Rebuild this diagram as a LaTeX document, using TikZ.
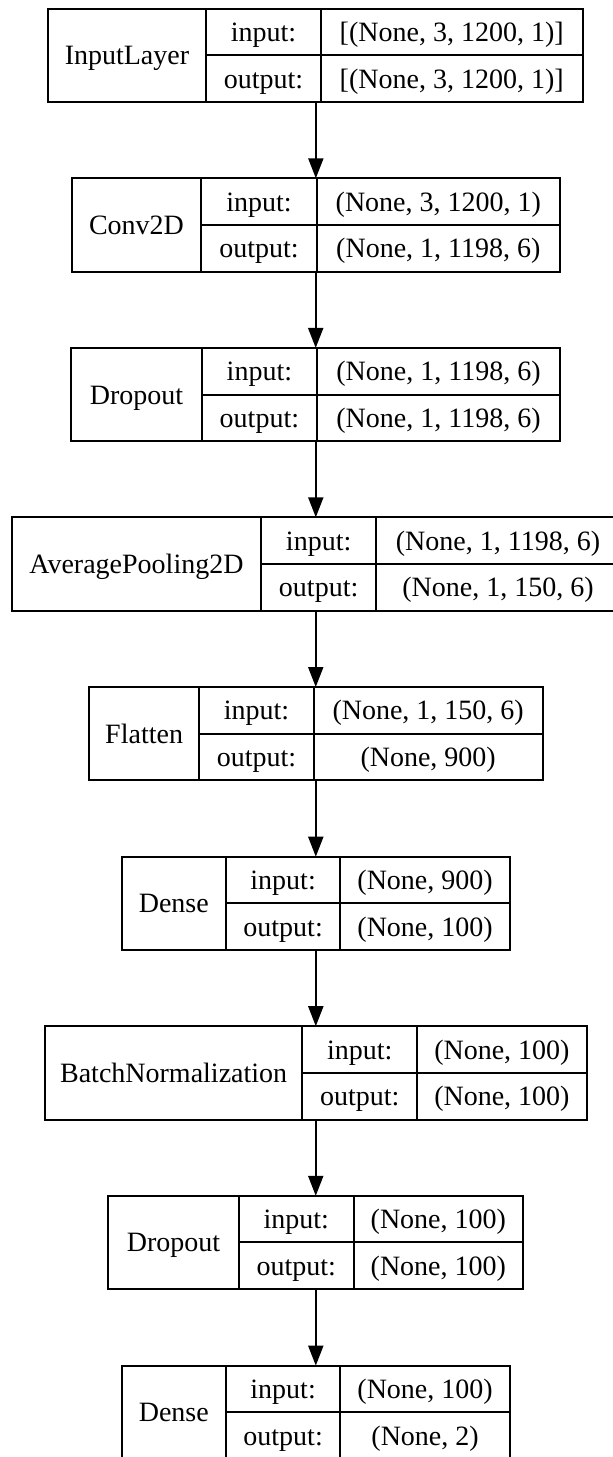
\documentclass[tikz,border=0pt]{standalone}
\usepackage{fontspec}
\setmainfont{Liberation Serif}
\usetikzlibrary{arrows.meta,fit}

\tikzset{
  frame/.style={draw, line width=1pt, inner sep=0pt, outer sep=0pt},
  cellline/.style={line width=1pt},
  txt/.style={anchor=base, inner sep=0pt, font=\fontsize{14pt}{16pt}\selectfont},
  flow/.style={line width=1pt, -{Triangle[length=10pt,width=7.5pt]}},
}

% One layer record: name, top, left, first divider, second divider, right,
% layer label, input shape, output shape (all in pixel units, y downwards)
\newcommand{\kerasbox}[9]{%
  \coordinate (#1-tl) at (#3,#2);
  \coordinate (#1-br) at (#6,{#2+93.3});
  \node[frame, fit=(#1-tl)(#1-br)] (#1) {};
  \draw[cellline] (#4,#2) -- (#4,{#2+93.3});
  \draw[cellline] (#5,#2) -- (#5,{#2+93.3});
  \draw[cellline] (#4,{#2+46.65}) -- (#6,{#2+46.65});
  \node[txt] (#1-label) at ({(#3+#4)/2},{#2+56.15}) {#7};
  \node[txt] (#1-ik) at ({(#4+#5)/2},{#2+32.8}) {input:};
  \node[txt] (#1-ok) at ({(#4+#5)/2},{#2+79.5}) {output:};
  \node[txt] (#1-iv) at ({(#5+#6)/2},{#2+32.8}) {#8};
  \node[txt] (#1-ov) at ({(#5+#6)/2},{#2+79.5}) {#9};
}

\begin{document}
\begin{tikzpicture}[x=0.5pt, y=-0.5pt]
  \useasboundingbox (0,0) rectangle (613,1457);

  \kerasbox{b0}{8.7}{47.6}{206.3}{320.7}{582.7}{InputLayer}{[(None, 3, 1200, 1)]}{[(None, 3, 1200, 1)]}
  \kerasbox{b1}{178.3}{71.6}{201.4}{316.6}{560.1}{Conv2D}{(None, 3, 1200, 1)}{(None, 1, 1198, 6)}
  \kerasbox{b2}{347.9}{71.0}{202.1}{316.7}{560.4}{Dropout}{(None, 1, 1198, 6)}{(None, 1, 1198, 6)}
  \kerasbox{b3}{517.3}{11.7}{261.2}{376.1}{619.9}{AveragePooling2D}{(None, 1, 1198, 6)}{(None, 1, 150, 6)}
  \kerasbox{b4}{687.0}{88.8}{199.4}{313.6}{542.7}{Flatten}{(None, 1, 150, 6)}{(None, 900)}
  \kerasbox{b5}{856.7}{121.6}{226.0}{340.2}{510.0}{Dense}{(None, 900)}{(None, 100)}
  \kerasbox{b6}{1026.2}{45.0}{302.3}{417.2}{586.6}{BatchNormalization}{(None, 100)}{(None, 100)}
  \kerasbox{b7}{1195.8}{108.3}{238.9}{353.5}{523.2}{Dropout}{(None, 100)}{(None, 100)}
  \kerasbox{b8}{1365.6}{121.6}{226.0}{340.2}{510.0}{Dense}{(None, 100)}{(None, 2)}

  \foreach \a/\b in {b0/b1, b1/b2, b2/b3, b3/b4, b4/b5, b5/b6, b6/b7, b7/b8}
    \draw[flow] (\a.south -| \b.north) -- (\b.north);
\end{tikzpicture}
\end{document}
